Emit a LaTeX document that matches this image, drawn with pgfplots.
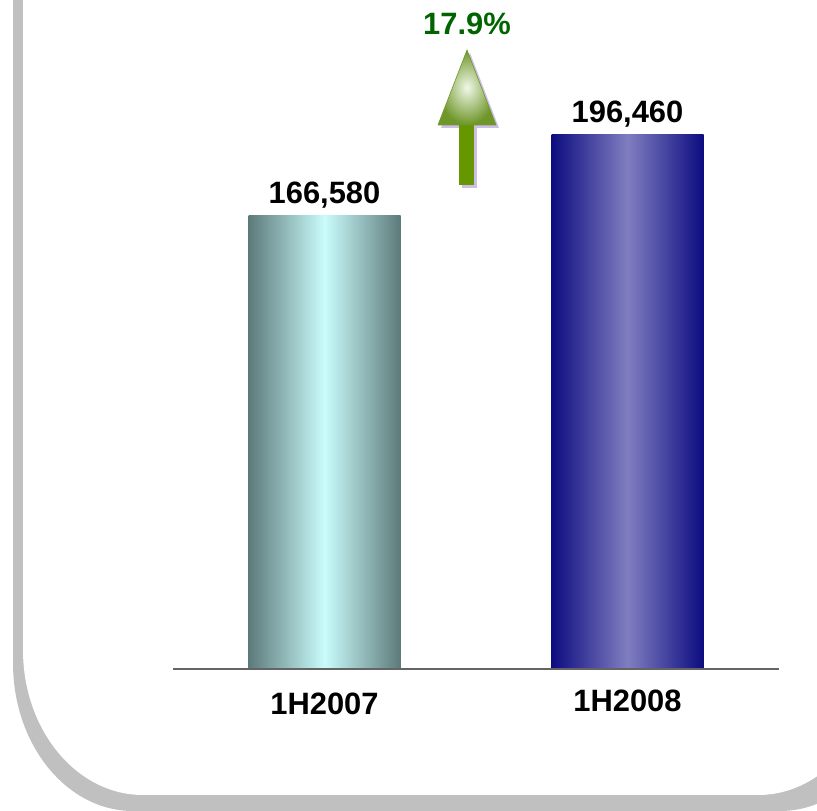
\documentclass[border=0pt]{standalone}
\usepackage{fontspec}
\setmainfont{Liberation Sans}
\usepackage{pgfplots}
\pgfplotsset{compat=1.18}
\definecolor{frameg}{RGB}{192,192,192}
\definecolor{axisgray}{RGB}{100,100,100}
\definecolor{c1e}{RGB}{93,122,122}
\definecolor{c1m}{RGB}{202,252,252}
\definecolor{c2e}{RGB}{12,12,128}
\definecolor{c2m}{RGB}{128,126,192}
\definecolor{lav}{RGB}{205,190,232}
\definecolor{shaft}{RGB}{102,150,0}
\definecolor{headout}{RGB}{110,150,40}
\definecolor{headin}{RGB}{240,248,232}
\definecolor{pctgreen}{RGB}{0,100,0}
\newcommand{\bigbold}{\fontsize{31}{31}\selectfont\bfseries}
\begin{document}
\begin{tikzpicture}[x=1bp,y=1bp]
\useasboundingbox (0,0) rectangle (817,811);
\begin{scope}
\clip (0,0) rectangle (817,811);
\fill[frameg] (13,950) -- (13,148) arc[start angle=180, end angle=270, x radius=120, y radius=148]
  -- (780,0) arc[start angle=270, end angle=360, x radius=120, y radius=148] -- (900,950) -- cycle;
\fill[white] (23,950) -- (23,161) arc[start angle=180, end angle=270, x radius=120, y radius=145]
  -- (758,16) arc[start angle=270, end angle=360, x radius=120, y radius=145] -- (878,950) -- cycle;
\end{scope}
\begin{axis}[
  at={(173bp,142bp)}, anchor=south west,
  scale only axis, width=606bp, height=649bp,
  xmin=-0.5, xmax=1.5, ymin=0, ymax=238650,
  axis y line=none, axis x line*=bottom,
  x axis line style={-, draw=axisgray, line width=2bp},
  xtick={0,1},
  xticklabels={1H2007,\raisebox{3bp}{1H2008}},
  major tick length=0pt,
  xticklabel style={anchor=base, yshift=-46bp, font=\bigbold},
  axis on top, clip=false,
  nodes near coords={\pgfmathprintnumber[fixed,precision=0,1000 sep={,},assume math mode=true]{\pgfplotspointmeta}},
  every node near coord/.append style={anchor=base, yshift=12.5bp, font=\bigbold, text=black},
]
\addplot[ybar, bar width=152bp, bar shift=0pt, draw=none,
  left color=c1e, right color=c1e, middle color=c1m] coordinates {(0,166580)};
\addplot[ybar, bar width=152bp, bar shift=0pt, draw=none,
  left color=c2e, right color=c2e, middle color=c2m] coordinates {(1,196460)};
\end{axis}
% growth arrow
\fill[lav] (441,683) -- (470,758) -- (499,683) -- cycle;
\fill[lav] (462,623) rectangle (477,683);
\fill[shaft] (459,626) rectangle (474,686);
\shade[inner color=headin, outer color=headout] (438,686) -- (467,761) -- (496,686) -- cycle;
\draw[headout, line width=0.6bp] (438,686) -- (467,761) -- (496,686) -- cycle;
\node[anchor=base, text=pctgreen, font=\bigbold, inner sep=0pt] at (467,776) {17.9\%};
\end{tikzpicture}
\end{document}
